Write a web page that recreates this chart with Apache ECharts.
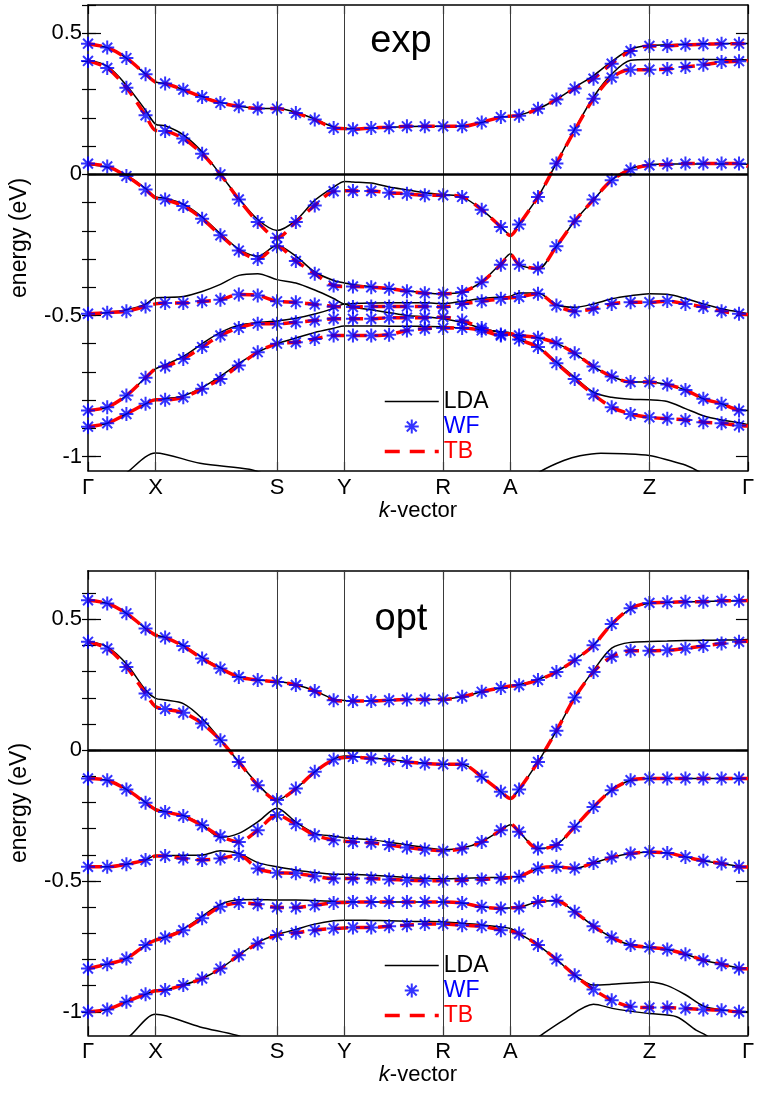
<!DOCTYPE html>
<html>
<head>
<meta charset="utf-8">
<script src="https://cdn.jsdelivr.net/npm/echarts@6/dist/echarts.min.js"></script>
<style>
  html, body { margin: 0; padding: 0; background: #fff; }
  #chart { width: 757px; height: 1095px; }
</style>
</head>
<body>
<div id="chart"></div>
<script>
// ---- k-path (path length in units of the Γ–X distance) ----
const K_HS = [0, 1.0, 2.801, 3.8, 5.263, 6.26, 8.319, 9.779];
const HS_LABELS = ['Γ', 'X', 'S', 'Y', 'R', 'A', 'Z', 'Γ'];

// k-points where Wannier-function (WF) energies were evaluated
const K_WF = [
  0, 0.285, 0.569, 0.853, 1.143, 1.412, 1.691, 1.962, 2.235, 2.515,
  2.801, 3.08, 3.36, 3.64, 3.926, 4.197, 4.462, 4.726, 4.991, 5.263,
  5.544, 5.834, 6.118, 6.388, 6.668, 6.941, 7.212, 7.491, 7.76, 8.04,
  8.319, 8.584, 8.853, 9.118, 9.388, 9.647
];
// extra TB points at X, Y, A and the closing Γ
const K_TBX = [1.0, 3.8, 6.26, 9.779];
// k-grid of the LDA bands
const K_LINE = [
  0, 0.285, 0.569, 0.853, 1.0, 1.143, 1.412, 1.691, 1.962, 2.235,
  2.515, 2.801, 3.08, 3.36, 3.64, 3.8, 3.926, 4.197, 4.462, 4.726,
  4.991, 5.263, 5.544, 5.834, 6.118, 6.26, 6.388, 6.668, 6.941, 7.212,
  7.491, 7.76, 8.04, 8.319, 8.584, 8.853, 9.118, 9.388, 9.647, 9.779
];

const Y_MAJOR = [-1, -0.5, 0, 0.5];
const Y_MINOR = [-1.0, -0.9, -0.8, -0.7, -0.6, -0.5, -0.4, -0.3, -0.2, -0.1, 0, 0.1, 0.2, 0.3, 0.4, 0.5, 0.6];

// ================= "exp" structure =================
const EXP_WF1 = [0.463, 0.449, 0.412, 0.355, 0.322, 0.300, 0.274, 0.253, 0.241, 0.233,
  0.233, 0.217, 0.194, 0.164, 0.160, 0.164, 0.167, 0.170, 0.170, 0.170,
  0.170, 0.184, 0.203, 0.208, 0.232, 0.265, 0.304, 0.339, 0.392, 0.437,
  0.455, 0.455, 0.459, 0.461, 0.463, 0.463];
const EXP_WF2 = [0.402, 0.377, 0.307, 0.209, 0.154, 0.127, 0.073, 0.000, -0.089, -0.169,
  -0.225, -0.169, -0.110, -0.060, -0.059, -0.059, -0.065, -0.069, -0.074, -0.074,
  -0.080, -0.125, -0.187, -0.178, -0.080, 0.038, 0.156, 0.268, 0.343, 0.371,
  0.371, 0.373, 0.380, 0.388, 0.398, 0.401];
const EXP_WF3 = [0.038, 0.028, -0.006, -0.054, -0.089, -0.112, -0.157, -0.216, -0.270, -0.300,
  -0.255, -0.307, -0.352, -0.394, -0.397, -0.400, -0.405, -0.414, -0.421, -0.423,
  -0.417, -0.382, -0.320, -0.320, -0.334, -0.255, -0.166, -0.089, -0.021, 0.017,
  0.032, 0.035, 0.038, 0.038, 0.038, 0.038];
const EXP_WF4 = [-0.494, -0.490, -0.485, -0.468, -0.456, -0.456, -0.450, -0.444, -0.426, -0.429,
  -0.450, -0.453, -0.461, -0.468, -0.470, -0.468, -0.468, -0.468, -0.468, -0.470,
  -0.459, -0.450, -0.441, -0.435, -0.423, -0.465, -0.485, -0.476, -0.459, -0.453,
  -0.453, -0.449, -0.459, -0.470, -0.485, -0.494];
const EXP_WF5 = [-0.837, -0.825, -0.784, -0.721, -0.681, -0.654, -0.612, -0.571, -0.544, -0.529,
  -0.529, -0.524, -0.518, -0.512, -0.512, -0.512, -0.508, -0.508, -0.508, -0.506,
  -0.518, -0.544, -0.567, -0.571, -0.579, -0.598, -0.634, -0.681, -0.716, -0.736,
  -0.736, -0.745, -0.764, -0.795, -0.813, -0.837];
const EXP_WF6 = [-0.894, -0.882, -0.849, -0.813, -0.799, -0.790, -0.760, -0.725, -0.677, -0.630,
  -0.600, -0.595, -0.583, -0.571, -0.571, -0.571, -0.568, -0.553, -0.547, -0.544,
  -0.544, -0.553, -0.571, -0.585, -0.612, -0.669, -0.725, -0.780, -0.825, -0.849,
  -0.861, -0.866, -0.870, -0.878, -0.882, -0.890];

// TB values at X, Y, A, Γ
const EXP_TBX1 = [0.327, 0.162, 0.206, 0.464];
const EXP_TBX2 = [0.156, -0.058, -0.217, 0.403];
const EXP_TBX3 = [-0.083, -0.397, -0.284, 0.028];
const EXP_TBX4 = [-0.459, -0.469, -0.437, -0.497];
const EXP_TBX5 = [-0.689, -0.512, -0.565, -0.840];
const EXP_TBX6 = [-0.799, -0.571, -0.565, -0.892];

// LDA bands on K_LINE
const EXP_LDA1 = [0.463, 0.449, 0.412, 0.355, 0.327, 0.322, 0.300, 0.276, 0.255, 0.241,
  0.234, 0.233, 0.220, 0.196, 0.168, 0.163, 0.162, 0.164, 0.167, 0.169,
  0.170, 0.170, 0.171, 0.184, 0.203, 0.206, 0.210, 0.232, 0.266, 0.308,
  0.350, 0.400, 0.443, 0.457, 0.459, 0.461, 0.463, 0.463, 0.464, 0.464];
const EXP_LDA2 = [0.405, 0.383, 0.316, 0.227, 0.178, 0.172, 0.140, 0.080, 0.000, -0.085,
  -0.160, -0.199, -0.163, -0.092, -0.045, -0.025, -0.027, -0.031, -0.045, -0.055,
  -0.065, -0.072, -0.080, -0.125, -0.185, -0.215, -0.175, -0.080, 0.040, 0.160,
  0.274, 0.355, 0.404, 0.407, 0.407, 0.407, 0.407, 0.407, 0.406, 0.405];
const EXP_LDA3 = [0.035, 0.025, -0.003, -0.050, -0.080, -0.085, -0.106, -0.151, -0.210, -0.265,
  -0.290, -0.252, -0.290, -0.346, -0.376, -0.385, -0.390, -0.398, -0.405, -0.413,
  -0.420, -0.423, -0.417, -0.380, -0.315, -0.281, -0.320, -0.335, -0.255, -0.165,
  -0.090, -0.020, 0.020, 0.035, 0.037, 0.037, 0.037, 0.037, 0.037, 0.036];
const EXP_LDA4 = [-0.495, -0.490, -0.480, -0.460, -0.437, -0.436, -0.433, -0.415, -0.390, -0.358,
  -0.352, -0.373, -0.385, -0.410, -0.440, -0.459, -0.458, -0.456, -0.455, -0.455,
  -0.455, -0.458, -0.450, -0.440, -0.435, -0.432, -0.420, -0.420, -0.462, -0.471,
  -0.459, -0.441, -0.430, -0.423, -0.425, -0.440, -0.459, -0.476, -0.488, -0.494];
const EXP_LDA5 = [-0.837, -0.825, -0.784, -0.720, -0.689, -0.675, -0.645, -0.600, -0.560, -0.535,
  -0.525, -0.520, -0.510, -0.495, -0.475, -0.459, -0.470, -0.480, -0.490, -0.500,
  -0.505, -0.512, -0.525, -0.545, -0.560, -0.565, -0.571, -0.579, -0.598, -0.634,
  -0.681, -0.716, -0.736, -0.736, -0.745, -0.764, -0.795, -0.813, -0.833, -0.837];
const EXP_LDA6 = [-0.894, -0.882, -0.849, -0.813, -0.799, -0.795, -0.785, -0.755, -0.715, -0.670,
  -0.630, -0.600, -0.580, -0.560, -0.545, -0.537, -0.537, -0.537, -0.538, -0.538,
  -0.539, -0.540, -0.545, -0.550, -0.558, -0.562, -0.585, -0.612, -0.665, -0.719,
  -0.772, -0.790, -0.797, -0.799, -0.805, -0.830, -0.855, -0.870, -0.880, -0.887];
// lower LDA band, only partly inside the window: [k, E]
const EXP_LDA7A = [[0.4, -1.10], [0.6, -1.052], [1.0, -0.987], [1.66, -1.024], [2.39, -1.045], [2.6, -1.06]];
const EXP_LDA7B = [[6.5, -1.09], [6.71, -1.052], [7.05, -1.014], [7.29, -0.997], [7.6, -0.988], [7.95, -0.99],
  [8.319, -0.996], [8.62, -1.014], [8.85, -1.03], [9.04, -1.052], [9.2, -1.08]];

// ================= "opt" structure =================
const OPT_WF1 = [0.573, 0.561, 0.523, 0.465, 0.431, 0.398, 0.350, 0.312, 0.280, 0.268,
  0.261, 0.249, 0.226, 0.191, 0.188, 0.188, 0.191, 0.194, 0.194, 0.194,
  0.204, 0.223, 0.238, 0.248, 0.268, 0.299, 0.344, 0.401, 0.482, 0.542,
  0.563, 0.565, 0.567, 0.567, 0.571, 0.571];
const OPT_WF2 = [0.414, 0.389, 0.318, 0.217, 0.157, 0.143, 0.102, 0.038, -0.045, -0.134,
  -0.191, -0.147, -0.083, -0.036, -0.026, -0.032, -0.038, -0.045, -0.051, -0.054,
  -0.054, -0.102, -0.159, -0.150, -0.045, 0.074, 0.201, 0.299, 0.357, 0.380,
  0.380, 0.382, 0.389, 0.398, 0.408, 0.414];
const OPT_WF3 = [-0.108, -0.115, -0.150, -0.201, -0.236, -0.252, -0.287, -0.329, -0.351, -0.306,
  -0.248, -0.283, -0.325, -0.344, -0.351, -0.354, -0.363, -0.372, -0.380, -0.385,
  -0.376, -0.351, -0.306, -0.312, -0.376, -0.363, -0.293, -0.217, -0.153, -0.115,
  -0.108, -0.108, -0.108, -0.108, -0.108, -0.108];
const OPT_WF4 = [-0.446, -0.446, -0.436, -0.420, -0.405, -0.414, -0.420, -0.414, -0.401, -0.452,
  -0.469, -0.471, -0.482, -0.491, -0.491, -0.491, -0.494, -0.497, -0.499, -0.499,
  -0.497, -0.494, -0.491, -0.484, -0.452, -0.446, -0.452, -0.431, -0.410, -0.395,
  -0.389, -0.393, -0.408, -0.423, -0.433, -0.446];
const OPT_WF5 = [-0.835, -0.818, -0.796, -0.745, -0.716, -0.688, -0.643, -0.599, -0.584, -0.589,
  -0.601, -0.601, -0.593, -0.584, -0.580, -0.580, -0.580, -0.580, -0.580, -0.580,
  -0.584, -0.599, -0.605, -0.601, -0.580, -0.576, -0.618, -0.673, -0.716, -0.745,
  -0.754, -0.762, -0.780, -0.803, -0.818, -0.835];
const OPT_WF6 = [-1.000, -0.991, -0.962, -0.933, -0.917, -0.898, -0.873, -0.835, -0.784, -0.739,
  -0.707, -0.698, -0.688, -0.682, -0.678, -0.678, -0.673, -0.669, -0.665, -0.665,
  -0.669, -0.673, -0.688, -0.701, -0.745, -0.800, -0.860, -0.915, -0.956, -0.981,
  -0.984, -0.984, -0.988, -0.991, -0.994, -1.000];

const OPT_TBX1 = [0.440, 0.188, 0.245, 0.572];
const OPT_TBX2 = [0.166, -0.028, -0.185, 0.416];
const OPT_TBX3 = [-0.227, -0.348, -0.283, -0.108];
const OPT_TBX4 = [-0.405, -0.491, -0.487, -0.447];
const OPT_TBX5 = [-0.726, -0.582, -0.603, -0.836];
const OPT_TBX6 = [-0.920, -0.680, -0.692, -1.000];

const OPT_LDA1 = [0.573, 0.561, 0.523, 0.465, 0.440, 0.431, 0.400, 0.355, 0.315, 0.280,
  0.268, 0.263, 0.250, 0.227, 0.195, 0.190, 0.188, 0.189, 0.191, 0.194,
  0.194, 0.195, 0.204, 0.223, 0.238, 0.247, 0.250, 0.270, 0.300, 0.345,
  0.402, 0.480, 0.540, 0.562, 0.565, 0.567, 0.568, 0.570, 0.571, 0.572];
const OPT_LDA2 = [0.416, 0.395, 0.330, 0.230, 0.198, 0.192, 0.178, 0.121, 0.040, -0.045,
  -0.130, -0.190, -0.147, -0.083, -0.034, -0.022, -0.024, -0.030, -0.036, -0.043,
  -0.050, -0.054, -0.054, -0.102, -0.159, -0.185, -0.150, -0.045, 0.074, 0.201,
  0.305, 0.390, 0.412, 0.415, 0.417, 0.419, 0.420, 0.421, 0.422, 0.423];
const OPT_LDA3 = [-0.108, -0.115, -0.150, -0.200, -0.225, -0.235, -0.250, -0.285, -0.333, -0.318,
  -0.274, -0.222, -0.275, -0.318, -0.329, -0.335, -0.338, -0.342, -0.352, -0.362,
  -0.372, -0.380, -0.374, -0.350, -0.306, -0.285, -0.312, -0.376, -0.362, -0.293,
  -0.217, -0.153, -0.115, -0.108, -0.108, -0.108, -0.108, -0.108, -0.108, -0.108];
const OPT_LDA4 = [-0.446, -0.446, -0.436, -0.420, -0.403, -0.403, -0.402, -0.401, -0.385, -0.395,
  -0.430, -0.446, -0.458, -0.468, -0.474, -0.474, -0.475, -0.478, -0.482, -0.487,
  -0.490, -0.492, -0.490, -0.488, -0.486, -0.484, -0.484, -0.452, -0.446, -0.452,
  -0.431, -0.410, -0.395, -0.389, -0.393, -0.408, -0.423, -0.433, -0.444, -0.447];
const OPT_LDA5 = [-0.835, -0.818, -0.796, -0.745, -0.726, -0.714, -0.683, -0.635, -0.590, -0.572,
  -0.571, -0.573, -0.573, -0.575, -0.578, -0.579, -0.580, -0.580, -0.580, -0.580,
  -0.580, -0.580, -0.584, -0.599, -0.605, -0.603, -0.601, -0.580, -0.576, -0.618,
  -0.673, -0.716, -0.745, -0.754, -0.762, -0.780, -0.803, -0.818, -0.832, -0.836];
const OPT_LDA6 = [-1.000, -0.991, -0.962, -0.933, -0.920, -0.917, -0.898, -0.873, -0.835, -0.784,
  -0.735, -0.705, -0.685, -0.665, -0.652, -0.650, -0.650, -0.651, -0.652, -0.654,
  -0.655, -0.656, -0.662, -0.668, -0.676, -0.682, -0.701, -0.745, -0.800, -0.860,
  -0.898, -0.895, -0.890, -0.886, -0.900, -0.935, -0.978, -0.993, -0.998, -1.000];
const OPT_LDA7A = [[0.45, -1.13], [0.63, -1.09], [1.0, -1.01], [1.66, -1.058], [2.2, -1.09], [2.4, -1.11]];
const OPT_LDA7B = [[6.55, -1.12], [6.71, -1.09], [7.05, -1.032], [7.49, -0.971], [7.79, -0.988],
  [8.319, -1.007], [8.72, -1.019], [9.01, -1.07], [9.16, -1.09], [9.25, -1.11]];

// ---------------- layout / style ----------------
const FONT = "'Liberation Sans', Arial, Helvetica, sans-serif";
const C_LDA = '#000000', C_WF = '#0000ff', C_TB = '#ff0000';
const STAR = 'path://M0,-10L0,10M-10,0L10,0M-7.07,-7.07L7.07,7.07M-7.07,7.07L7.07,-7.07';
const TB_DASH = [14, 8];

const PANELS = [
  { title: 'exp', titleY: 42, top: 5, height: 465.7, yMin: -1.05, yMax: 0.6, legendTop: 390,
    wf: [EXP_WF1, EXP_WF2, EXP_WF3, EXP_WF4, EXP_WF5, EXP_WF6],
    tbx: [EXP_TBX1, EXP_TBX2, EXP_TBX3, EXP_TBX4, EXP_TBX5, EXP_TBX6],
    lda: [EXP_LDA1, EXP_LDA2, EXP_LDA3, EXP_LDA4, EXP_LDA5, EXP_LDA6],
    ldaPairs: [EXP_LDA7A, EXP_LDA7B] },
  { title: 'opt', titleY: 620, top: 570.7, height: 464.6, yMin: -1.09, yMax: 0.686, legendTop: 954,
    wf: [OPT_WF1, OPT_WF2, OPT_WF3, OPT_WF4, OPT_WF5, OPT_WF6],
    tbx: [OPT_TBX1, OPT_TBX2, OPT_TBX3, OPT_TBX4, OPT_TBX5, OPT_TBX6],
    lda: [OPT_LDA1, OPT_LDA2, OPT_LDA3, OPT_LDA4, OPT_LDA5, OPT_LDA6],
    ldaPairs: [OPT_LDA7A, OPT_LDA7B] }
];

function hsLabel(v) {
  const i = K_HS.findIndex(k => Math.abs(k - v) < 1e-6);
  return i < 0 ? '' : HS_LABELS[i];
}

const grid = [], xAxis = [], yAxis = [], series = [], legend = [], graphic = [];
const NO_DOT = { color: 'rgba(0,0,0,0)', borderWidth: 0, opacity: 0 };

PANELS.forEach((p, pi) => {
  grid.push({ left: 87, right: 5, top: p.top, height: p.height, containLabel: false });

  const xBase = { type: 'value', gridIndex: pi, min: 0, max: K_HS[K_HS.length - 1],
    splitLine: { show: false },
    axisLine: { show: true, onZero: false, lineStyle: { color: '#000', width: 1.5 } },
    axisTick: { show: true, inside: true, length: 9, customValues: K_HS, lineStyle: { color: '#000', width: 1.2 } } };
  xAxis.push(Object.assign({}, xBase, {
    position: 'bottom',
    axisLabel: { show: true, customValues: K_HS, formatter: hsLabel, margin: 6,
      fontSize: 22, color: '#000', fontFamily: FONT, showMinLabel: true, showMaxLabel: true, hideOverlap: false },
    name: '{i|k}-vector', nameLocation: 'middle', nameGap: 27,
    nameTextStyle: { fontSize: 22, color: '#000', fontFamily: FONT, verticalAlign: 'top',
      rich: { i: { fontStyle: 'italic', fontSize: 22, color: '#000', fontFamily: FONT } } }
  }));
  xAxis.push(Object.assign({}, xBase, { position: 'top', axisLabel: { show: false } }));

  const yBase = { type: 'value', gridIndex: pi, min: p.yMin, max: p.yMax, splitLine: { show: false } };
  yAxis.push(Object.assign({}, yBase, {
    position: 'left',
    axisLine: { show: true, onZero: false, lineStyle: { color: '#000', width: 1.5 } },
    axisTick: { show: true, inside: true, length: 13, customValues: Y_MAJOR, lineStyle: { color: '#000', width: 1.2 } },
    axisLabel: { show: true, customValues: Y_MAJOR, margin: 6, fontSize: 22, color: '#000', fontFamily: FONT,
      formatter: v => String(v), showMinLabel: true, showMaxLabel: true },
    name: 'energy (eV)', nameLocation: 'middle', nameGap: 57,
    nameTextStyle: { fontSize: 23, color: '#000', fontFamily: FONT }
  }));
  yAxis.push(Object.assign({}, yBase, {
    position: 'left', axisLine: { show: false }, axisLabel: { show: false },
    axisTick: { show: true, inside: true, length: 8, customValues: Y_MINOR, lineStyle: { color: '#000', width: 1.2 } }
  }));
  yAxis.push(Object.assign({}, yBase, {
    position: 'right',
    axisLine: { show: true, onZero: false, lineStyle: { color: '#000', width: 1.5 } },
    axisLabel: { show: false },
    axisTick: { show: true, inside: true, length: 12, customValues: Y_MAJOR, lineStyle: { color: '#000', width: 1.2 } }
  }));
  yAxis.push(Object.assign({}, yBase, {
    position: 'right', axisLine: { show: false }, axisLabel: { show: false },
    axisTick: { show: true, inside: true, length: 6, customValues: Y_MINOR, lineStyle: { color: '#000', width: 1.2 } }
  }));

  const xi = 2 * pi, yi = 4 * pi;

  // vertical guides at the high-symmetry points and the Fermi level
  series.push({
    type: 'line', xAxisIndex: xi, yAxisIndex: yi, data: [], z: 1, silent: true,
    markLine: {
      silent: true, symbol: ['none', 'none'], label: { show: false }, animation: false,
      data: K_HS.slice(1, -1).map(k => ({ xAxis: k, lineStyle: { color: '#3a3a3a', width: 1, type: 'solid' } }))
        .concat([{ yAxis: 0, lineStyle: { color: '#000', width: 2.5, type: 'solid' } }])
    }
  });

  // LDA bands
  p.lda.forEach(band => {
    series.push({
      name: 'LDA', type: 'line', xAxisIndex: xi, yAxisIndex: yi, z: 2,
      data: K_LINE.map((k, i) => [k, band[i]]),
      smooth: 0.3, showSymbol: false, symbol: 'none', clip: true,
      lineStyle: { color: C_LDA, width: 1.5 }, itemStyle: { color: C_LDA }
    });
  });
  p.ldaPairs.forEach(piece => {
    series.push({
      name: 'LDA', type: 'line', xAxisIndex: xi, yAxisIndex: yi, z: 2,
      data: piece, smooth: 0.3, showSymbol: false, symbol: 'none', clip: true,
      lineStyle: { color: C_LDA, width: 1.5 }, itemStyle: { color: C_LDA }
    });
  });

  // tight-binding bands: WF k-points plus the extra high-symmetry points
  p.wf.forEach((band, b) => {
    const pts = K_WF.map((k, i) => [k, band[i]])
      .concat(K_TBX.map((k, i) => [k, p.tbx[b][i]]))
      .sort((a, c) => a[0] - c[0]);
    series.push({
      name: 'TB', type: 'line', xAxisIndex: xi, yAxisIndex: yi, z: 3,
      data: pts, smooth: 0.3, showSymbol: false, symbol: 'none', clip: true,
      lineStyle: { color: C_TB, width: 3.5, type: TB_DASH }, itemStyle: { color: C_TB }
    });
  });

  // Wannier-function energies
  p.wf.forEach(band => {
    series.push({
      name: 'WF', type: 'scatter', xAxisIndex: xi, yAxisIndex: yi, z: 4,
      data: K_WF.map((k, i) => [k, band[i]]),
      symbol: STAR, symbolSize: 14, symbolKeepAspect: true,
      itemStyle: { color: 'rgba(0,0,0,0)', borderColor: C_WF, borderWidth: 2 }
    });
  });

  legend.push({
    orient: 'vertical', left: 383, top: p.legendTop, padding: 0,
    itemWidth: 54, itemHeight: 14, itemGap: 2, selectedMode: false,
    textStyle: { fontSize: 23, fontFamily: FONT },
    data: [
      { name: 'LDA', textStyle: { color: C_LDA }, itemStyle: NO_DOT,
        lineStyle: { color: C_LDA, width: 1.5, type: 'solid' } },
      { name: 'WF', textStyle: { color: C_WF } },
      { name: 'TB', textStyle: { color: C_TB }, itemStyle: NO_DOT,
        lineStyle: { color: C_TB, width: 3.5, type: [15, 10] } }
    ]
  });

  graphic.push({
    type: 'text', x: 401, y: p.titleY, z: 10,
    style: { text: p.title, fontSize: 38, fontFamily: FONT, fill: '#000', align: 'center', verticalAlign: 'middle' }
  });
});

const chart = echarts.init(document.getElementById('chart'), null, { renderer: 'canvas' });
chart.setOption({
  backgroundColor: '#ffffff',
  animation: false,
  grid, xAxis, yAxis, series, legend, graphic
});
</script>
</body>
</html>
